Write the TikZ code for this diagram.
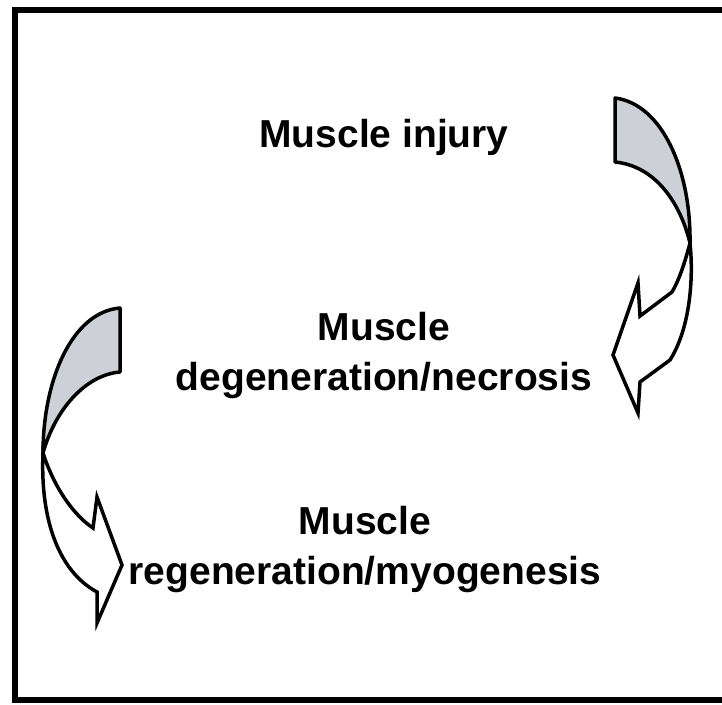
\documentclass[tikz,border=0pt]{standalone}
\usepackage{fontspec}
\setmainfont{Liberation Sans}
\usepackage{tikz}
\usetikzlibrary{positioning}
\definecolor{bandgray}{HTML}{CDD0D6}
\tikzset{
  lbl/.style={font=\bfseries\fontsize{39}{50}\selectfont, align=center, inner sep=0pt},
  back/.style={draw=black, line width=3.5pt, fill=bandgray, line join=round},
  front/.style={draw=black, line width=3.5pt, fill=white, line join=miter},
}
\begin{document}
\begin{tikzpicture}[x=1pt, y=-1pt]
  \useasboundingbox (0,0) rectangle (722,704);
  % the frame
  \draw[line width=6pt] (15,10) rectangle (740,700);
  % the three stages
  \node[lbl] (injury) at (384,137) {Muscle injury};
  \node[lbl] (necrosis) at (384,355) {Muscle\\degeneration/necrosis};
  \node[lbl] (myogenesis) at (365,549) {Muscle\\regeneration/myogenesis};
  % right ribbon arrow
  \draw[back] (615,98) .. controls (662,104) and (691,170) .. (690,243)
    .. controls (680,202) and (655,166) .. (615,162) -- cycle;
  \draw[front] (690,243) .. controls (684,266) and (678,282) .. (672,292)
    -- (640,316) -- (638,283) -- (613,355) -- (638,413) -- (640,382)
    -- (670,360) .. controls (689,330) and (694,282) .. (690,243) -- cycle;
  % left ribbon arrow
  \draw[back] (120,308) .. controls (72,312) and (43,380) .. (43,453)
    .. controls (55,410) and (85,375) .. (120,372) -- cycle;
  \draw[front] (43,453) .. controls (55,490) and (75,516) .. (93,528)
    -- (97,497) -- (122,565) -- (97,623) -- (97,592)
    .. controls (60,572) and (40,522) .. (43,453) -- cycle;
\end{tikzpicture}
\end{document}
